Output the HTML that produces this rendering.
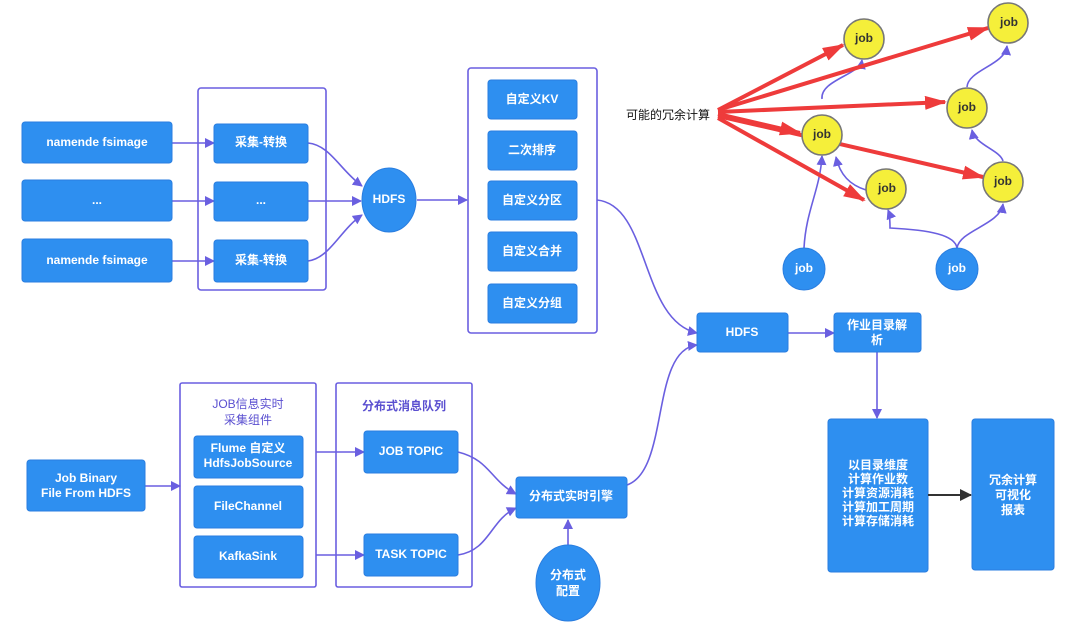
<!DOCTYPE html>
<html><head><meta charset="utf-8"><style>
html,body{margin:0;padding:0;background:#fff;}
svg{display:block;}
text{font-family:"Liberation Sans","Noto Sans CJK SC",sans-serif;font-weight:bold;font-size:12px;fill:#fff;text-anchor:middle;dominant-baseline:middle;}
</style></head><body>
<svg width="1080" height="626" viewBox="0 0 1080 626" xmlns="http://www.w3.org/2000/svg">
<defs>
<marker id="a" markerWidth="10" markerHeight="10" refX="9" refY="5" orient="auto" markerUnits="userSpaceOnUse"><path d="M0,0 L10,5 L0,10 z" fill="#6a5fe0"/></marker>
<marker id="k" markerWidth="12" markerHeight="12" refX="11" refY="6" orient="auto" markerUnits="userSpaceOnUse"><path d="M0,0 L12,6 L0,12 z" fill="#333"/></marker>
<marker id="r" markerWidth="22" markerHeight="14" refX="20" refY="7" orient="auto" markerUnits="userSpaceOnUse"><path d="M0,0 L22,7 L0,14 z" fill="#ee3b3b"/></marker>
</defs>
<g fill="none" stroke="#6a5fe0" stroke-width="1.6">
<rect x="198" y="88" width="128" height="202" rx="3"/>
<rect x="468" y="68" width="129" height="265" rx="3"/>
<rect x="180" y="383" width="136" height="204" rx="2"/>
<rect x="336" y="383" width="136" height="204" rx="2"/>
<g marker-end="url(#a)">
<path d="M172,143 H214"/><path d="M172,201 H214"/><path d="M172,261 H214"/>
<path d="M308,143 C330,145 340,170 362,186"/>
<path d="M308,201 H361"/>
<path d="M308,261 C330,258 340,230 362,215"/>
<path d="M417,200 H467"/>
<path d="M597,200 C650,205 640,320 697,333"/>
<path d="M788,333 H834"/>
<path d="M877,352 V418"/>
<path d="M145,486 H180"/>
<path d="M316,452 H364"/><path d="M316,555 H364"/>
<path d="M458,452 C490,460 490,480 516,494"/>
<path d="M458,555 C490,550 490,520 516,508"/>
<path d="M627,485 C670,470 650,350 697,345"/>
<path d="M568,545 V520"/>
<path d="M822,99 C820,80 860,75 862,60"/>
<path d="M804,248 C806,210 820,190 822,156"/>
<path d="M866,190 C850,185 840,175 836,157"/>
<path d="M957,248 C955,235 930,230 890,228 C890,225 890,215 888,210"/>
<path d="M957,248 C960,230 1000,225 1003,204"/>
<path d="M1003,161 C1000,150 975,145 972,130"/>
<path d="M967,87 C968,70 1005,65 1007,46"/>
</g>
</g>
<g fill="#2e8ff0" stroke="#2a7ee0" stroke-width="1">
<rect x="22" y="122" width="150" height="41" rx="3"/>
<rect x="22" y="180" width="150" height="41" rx="3"/>
<rect x="22" y="239" width="150" height="43" rx="3"/>
<rect x="214" y="124" width="94" height="39" rx="3"/>
<rect x="214" y="182" width="94" height="39" rx="3"/>
<rect x="214" y="240" width="94" height="42" rx="3"/>
<ellipse cx="389" cy="200" rx="27" ry="32"/>
<rect x="488" y="80" width="89" height="39" rx="3"/>
<rect x="488" y="131" width="89" height="39" rx="3"/>
<rect x="488" y="181" width="89" height="39" rx="3"/>
<rect x="488" y="232" width="89" height="39" rx="3"/>
<rect x="488" y="284" width="89" height="39" rx="3"/>
<rect x="697" y="313" width="91" height="39" rx="3"/>
<rect x="834" y="313" width="87" height="39" rx="3"/>
<rect x="828" y="419" width="100" height="153" rx="3"/>
<rect x="972" y="419" width="82" height="151" rx="3"/>
<rect x="27" y="460" width="118" height="51" rx="3"/>
<rect x="194" y="436" width="109" height="42" rx="3"/>
<rect x="194" y="486" width="109" height="42" rx="3"/>
<rect x="194" y="536" width="109" height="42" rx="3"/>
<rect x="364" y="431" width="94" height="42" rx="3"/>
<rect x="364" y="534" width="94" height="42" rx="3"/>
<rect x="516" y="477" width="111" height="41" rx="3"/>
<ellipse cx="568" cy="583" rx="32" ry="38"/>
<circle cx="804" cy="269" r="21"/>
<circle cx="957" cy="269" r="21"/>
</g>
<path d="M928,495 H971" stroke="#333" stroke-width="2" marker-end="url(#k)"/>
<g stroke="#ee3b3b" stroke-width="4" fill="none" marker-end="url(#r)">
<path d="M718,110 L843,45"/>
<path d="M718,110 L988,28"/>
<path d="M718,112 L945,102"/>
<path d="M718,114 L800,133"/>
<path d="M718,116 L983,177"/>
<path d="M718,118 L864,200"/>
</g>
<g fill="#f5ef3a" stroke="#777" stroke-width="1.6">
<circle cx="864" cy="39" r="20"/>
<circle cx="1008" cy="23" r="20"/>
<circle cx="967" cy="108" r="20"/>
<circle cx="822" cy="135" r="20"/>
<circle cx="886" cy="189" r="20"/>
<circle cx="1003" cy="182" r="20"/>
</g>
<g style="fill:#333">
<text x="864" y="39" style="fill:#333">job</text>
<text x="1009" y="23" style="fill:#333">job</text>
<text x="967" y="108" style="fill:#333">job</text>
<text x="822" y="135" style="fill:#333">job</text>
<text x="887" y="189" style="fill:#333">job</text>
<text x="1003" y="182" style="fill:#333">job</text>
</g>
<text x="668" y="116" style="fill:#111;font-weight:normal;font-size:12px">可能的冗余计算</text>
<text x="97" y="143">namende fsimage</text>
<text x="97" y="201">...</text>
<text x="97" y="261">namende fsimage</text>
<text x="261" y="143">采集-转换</text>
<text x="261" y="201">...</text>
<text x="261" y="261">采集-转换</text>
<text x="389" y="200">HDFS</text>
<text x="532" y="100">自定义KV</text>
<text x="532" y="151">二次排序</text>
<text x="532" y="201">自定义分区</text>
<text x="532" y="252">自定义合并</text>
<text x="532" y="304">自定义分组</text>
<text x="742" y="333">HDFS</text>
<text x="877" y="326">作业目录解</text>
<text x="877" y="341">析</text>
<text x="878" y="466">以目录维度</text>
<text x="878" y="480">计算作业数</text>
<text x="878" y="494">计算资源消耗</text>
<text x="878" y="508">计算加工周期</text>
<text x="878" y="522">计算存储消耗</text>
<text x="1013" y="481">冗余计算</text>
<text x="1013" y="496">可视化</text>
<text x="1013" y="511">报表</text>
<text x="86" y="479">Job Binary</text>
<text x="86" y="494">File From HDFS</text>
<text x="248" y="405" style="fill:#5a4fd0;font-weight:normal">JOB信息实时</text>
<text x="248" y="421" style="fill:#5a4fd0;font-weight:normal">采集组件</text>
<text x="404" y="407" style="fill:#5a4fd0">分布式消息队列</text>
<text x="248" y="449">Flume 自定义</text>
<text x="248" y="464">HdfsJobSource</text>
<text x="248" y="507">FileChannel</text>
<text x="248" y="557">KafkaSink</text>
<text x="411" y="452">JOB TOPIC</text>
<text x="411" y="555">TASK TOPIC</text>
<text x="571" y="497">分布式实时引擎</text>
<text x="568" y="576">分布式</text>
<text x="568" y="592">配置</text>
<text x="804" y="269">job</text>
<text x="957" y="269">job</text>
</svg>
</body></html>
